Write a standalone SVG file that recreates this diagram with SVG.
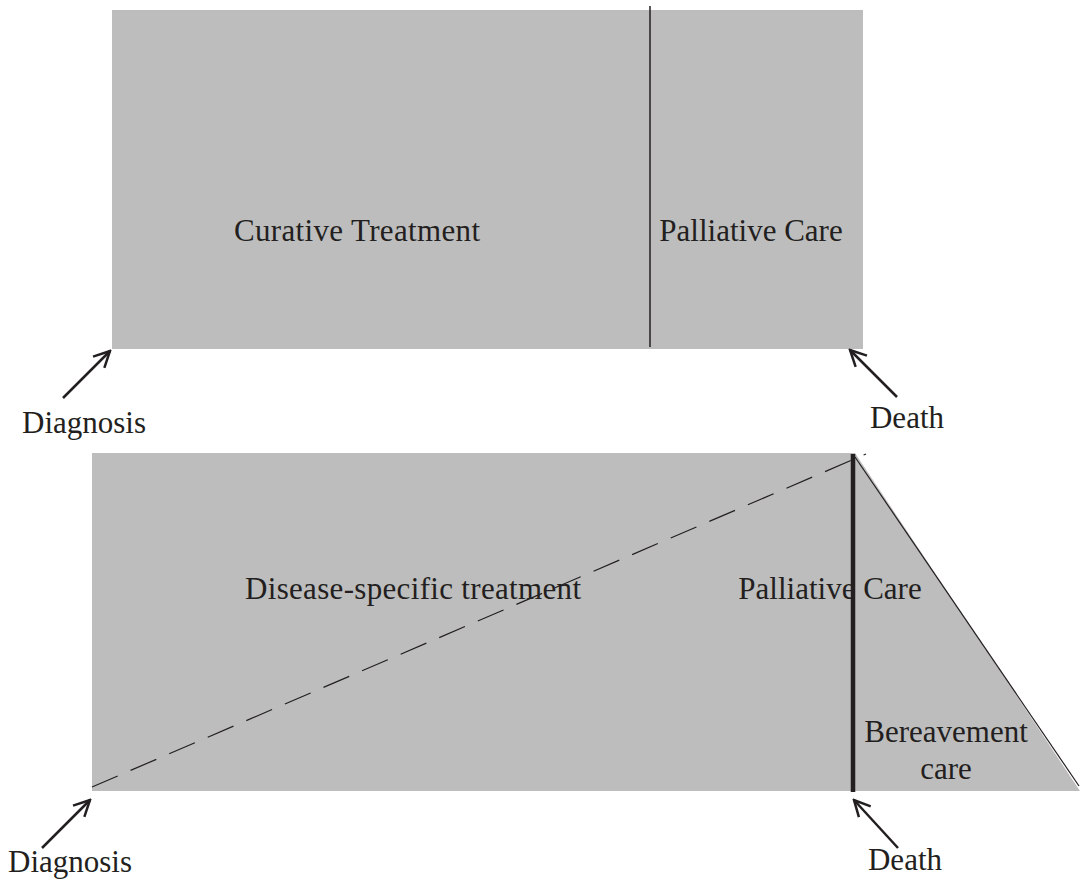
<svg xmlns="http://www.w3.org/2000/svg" width="1081" height="881" viewBox="0 0 1081 881">
<style>
.bg{fill:#bdbdbd}
.t{font-family:"Liberation Serif",serif;font-size:31px;fill:#231f20}
.ar{stroke:#231f20;stroke-width:2.5;fill:none}
</style>
<defs>
<marker id="ah" viewBox="0 0 20 20" refX="18" refY="10" markerWidth="20" markerHeight="20" markerUnits="userSpaceOnUse" orient="auto">
<path d="M2,2 L18,10 L2,18" fill="none" stroke="#231f20" stroke-width="2.5"/>
</marker>
</defs>
<rect width="1081" height="881" fill="#fff"/>
<g id="top-panel">
<rect class="bg" x="112" y="10" width="751" height="339"/>
<line x1="650" y1="6" x2="650" y2="347" stroke="#231f20" stroke-width="1.5"/>
<text class="t" x="357" y="241" text-anchor="middle" textLength="246">Curative Treatment</text>
<text class="t" x="751" y="241" text-anchor="middle">Palliative Care</text>
</g>
<g id="bottom-panel">
<polygon class="bg" points="92,453 855,453 1080,791 92,791"/>
<line x1="92" y1="787" x2="866" y2="454" stroke="#231f20" stroke-width="1.2" stroke-dasharray="28,14"/>
<line x1="855" y1="457" x2="1079" y2="786" stroke="#231f20" stroke-width="1.2"/>
<line x1="853" y1="454" x2="853" y2="792" stroke="#231f20" stroke-width="4.5"/>
<text class="t" x="413" y="599" text-anchor="middle" textLength="336">Disease-specific treatment</text>
<text class="t" x="830" y="599" text-anchor="middle">Palliative Care</text>
<text class="t" x="946" y="742" text-anchor="middle">Bereavement</text>
<text class="t" x="946" y="779" text-anchor="middle">care</text>
</g>
<g id="labels">
<text class="t" x="84" y="433" text-anchor="middle">Diagnosis</text>
<text class="t" x="907" y="428" text-anchor="middle">Death</text>
<text class="t" x="70" y="872" text-anchor="middle">Diagnosis</text>
<text class="t" x="905" y="870" text-anchor="middle">Death</text>
</g>
<g id="connectors">
<line class="ar" x1="63" y1="398" x2="110" y2="351" marker-end="url(#ah)"/>
<line class="ar" x1="897" y1="397" x2="850" y2="350" marker-end="url(#ah)"/>
<line class="ar" x1="42" y1="848" x2="90" y2="800" marker-end="url(#ah)"/>
<line class="ar" x1="898" y1="848" x2="854" y2="800" marker-end="url(#ah)"/>
</g>
</svg>
